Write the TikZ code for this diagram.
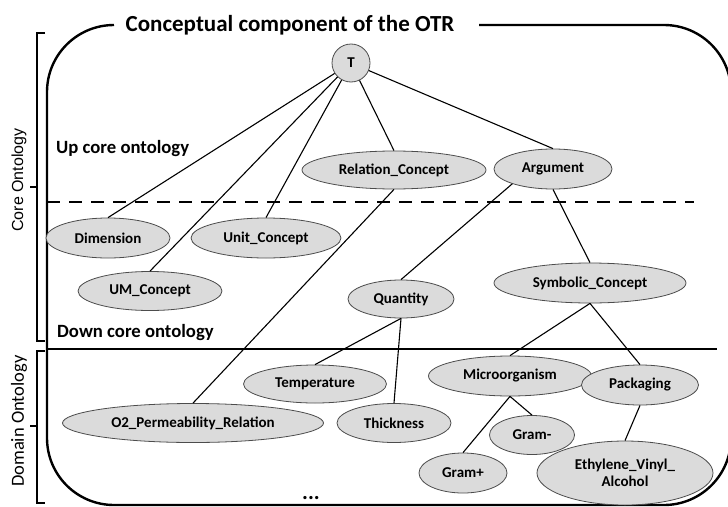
\documentclass[tikz,border=0pt]{standalone}
\usepackage{fontspec}
\setmainfont{Carlito}
\newfontfamily\arialfont{Liberation Sans}
\usetikzlibrary{shapes.geometric}

\begin{document}
\begin{tikzpicture}[x=1pt,y=1pt,yscale=-1,
  concept/.style={ellipse, draw=black!70, line width=0.8pt, fill=black!14,
    font=\bfseries\fontsize{15}{17}\selectfont, inner sep=0pt},
  link/.style={line width=1.1pt},
  frame/.style={line width=2.4pt},
  bracket/.style={line width=2pt},
  level/.style={font=\bfseries\fontsize{18.7}{22}\selectfont, anchor=west, inner sep=0pt},
  side/.style={rotate=90, inner sep=0pt},
]
\useasboundingbox (0,0) rectangle (728,506);

% outer rounded frame, open at the top for the title
\draw[frame] (114,25) arc[start angle=270,end angle=180,radius=67]
  -- (47,438) arc[start angle=180,end angle=90,radius=67]
  -- (664,505) arc[start angle=90,end angle=0,radius=67]
  -- (731,92) arc[start angle=0,end angle=-90,radius=67]
  -- (479,25);
\node[font=\bfseries\fontsize{23}{27}\selectfont, inner sep=0pt] (title) at (290,25)
  {Conceptual component of the OTR};

% left brackets
\draw[bracket] (45,33) -- (37,33) -- (37,341) -- (45,341);
\draw[bracket] (37,187) -- (30,187);
\draw[bracket] (45,351) -- (37,351) -- (37,503) -- (45,503);
\draw[bracket] (37,426) -- (30,426);
\node[side, font=\arialfont\fontsize{16}{19}\selectfont] (core) at (19,180) {Core Ontology};
\node[side, font=\fontsize{18.5}{22}\selectfont] (domain) at (19,421) {Domain Ontology};

% layer separators
\draw[line width=2.4pt, dash pattern=on 13pt off 9pt] (47,202) -- (694,202);
\draw[line width=2.4pt] (47,349) -- (717,349);
\node[level] (up) at (56,149) {Up core ontology};
\node[level] (down) at (57,333) {Down core ontology};

% concepts
\node[concept, circle, minimum size=38pt] (T) at (351,63) {T};
\node[concept, minimum width=184pt, minimum height=38pt] (rel) at (394,170) {Relation\_Concept};
\node[concept, minimum width=118pt, minimum height=40pt] (arg) at (553,169) {Argument};
\node[concept, minimum width=124pt, minimum height=40pt] (dim) at (108,238) {Dimension};
\node[concept, minimum width=150pt, minimum height=40pt] (unit) at (266,238) {Unit\_Concept};
\node[concept, minimum width=144pt, minimum height=39pt] (um) at (150,291) {UM\_Concept};
\node[concept, minimum width=106pt, minimum height=38pt] (qty) at (401,299) {Quantity};
\node[concept, minimum width=192pt, minimum height=40pt] (sym) at (590,283) {Symbolic\_Concept};
\node[concept, minimum width=143pt, minimum height=38pt] (temp) at (315,384) {Temperature};
\node[concept, minimum width=261pt, minimum height=39pt] (o2) at (193,423) {O2\_Permeability\_Relation};
\node[concept, minimum width=114pt, minimum height=39pt] (thick) at (394,423) {Thickness};
\node[concept, minimum width=163pt, minimum height=40pt] (micro) at (510,376) {Microorganism};
\node[concept, minimum width=117pt, minimum height=40pt] (pack) at (640,385) {Packaging};
\node[concept, minimum width=85pt, minimum height=39pt] (gminus) at (532,435) {Gram-};
\node[concept, minimum width=88pt, minimum height=40pt] (gplus) at (463,473) {Gram+};
\node[concept, minimum width=176pt, minimum height=64pt, align=center] (eva) at (625,473)
  {Ethylene\_Vinyl\_\\Alcohol};
\node[font=\bfseries\fontsize{22}{26}\selectfont, inner sep=0pt] (more) at (311,498) {...};

% hierarchy links
\draw[link] (T) -- (dim.north);
\draw[link] (T) -- (um.north);
\draw[link] (T) -- (unit.north);
\draw[link] (T) -- (rel.north);
\draw[link] (T) -- (arg.north);
\draw[link] (rel.south) -- (o2.north);
\draw[link] (arg.200) -- (qty.north);
\draw[link] (arg.south) -- (sym.north);
\draw[link] (qty.south) -- (temp.north);
\draw[link] (qty.south) -- (thick.north);
\draw[link] (sym.south) -- (micro.north);
\draw[link] (sym.south) -- (pack.north);
\draw[link] (micro.south) -- (gplus.north);
\draw[link] (micro.south) -- (gminus.north);
\draw[link] (pack.south) -- (eva.north);
\end{tikzpicture}
\end{document}
